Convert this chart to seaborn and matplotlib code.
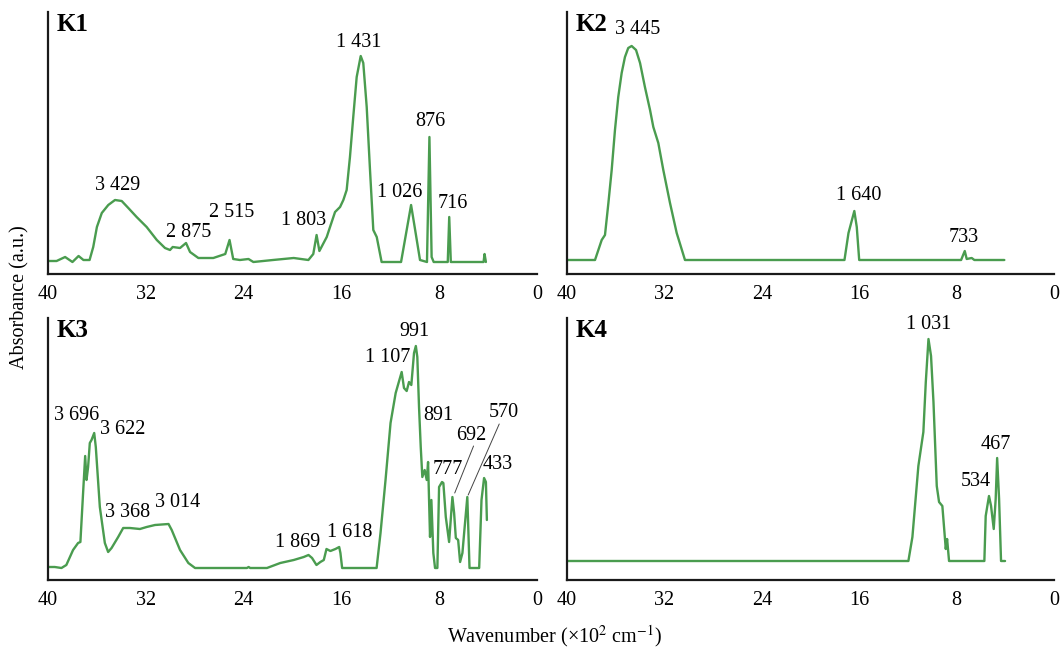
import matplotlib
matplotlib.use("Agg")
import matplotlib.pyplot as plt
import seaborn as sns
import pandas as pd

# ---------------- data (wavenumber x10^2 cm^-1, absorbance a.u.) ----------------
k1_w = [40.0, 39.3, 38.6, 38.0, 37.5, 37.1, 36.6, 36.3, 36.0, 35.6, 35.07, 34.52, 33.97, 33.43,
        32.75, 31.93, 31.1, 30.43, 30.02, 29.8, 29.2, 28.71, 28.38, 27.7, 26.48, 25.5, 25.15,
        24.85, 24.3, 23.6, 23.2, 21.6, 19.9, 18.7, 18.3, 18.03, 17.8, 17.2, 16.93, 16.52, 16.11,
        15.84, 15.57, 15.30, 15.03, 14.75, 14.42, 14.21, 13.93, 13.66, 13.39, 13.11, 12.71,
        11.12, 10.3, 9.98, 9.57, 9.0, 8.8, 8.62, 8.45, 7.3, 7.18, 7.05, 4.37, 4.29, 4.18]
k1_a = [13, 13, 17, 12, 18, 14, 14, 27, 47, 61, 69, 74, 73, 66,
        57, 47, 34, 26, 24, 27, 26, 31, 22, 16, 16, 20, 34,
        15, 14, 15, 12, 14, 16, 14, 20, 39, 23, 37, 47, 62, 67,
        74, 84, 117, 157, 197, 218, 211, 167, 104, 44, 37, 12,
        12, 69, 45, 14, 12, 137, 17, 12, 12, 57, 12, 12, 20, 12]

k2_w = [40.0, 37.7, 37.15, 36.88, 36.6, 36.33, 36.06, 35.79, 35.51, 35.24, 34.97, 34.69, 34.33,
        34.0, 33.6, 33.18, 32.91, 32.5, 32.09, 31.54, 30.99, 30.31, 17.21, 16.88, 16.40, 16.20,
        16.0, 7.63, 7.33, 7.17, 6.76, 6.54, 4.08]
k2_a = [14, 14, 34, 39, 71, 104, 144, 177, 201, 217, 226, 228, 224,
        211, 187, 164, 147, 131, 104, 71, 41, 14, 14, 41, 63, 47,
        14, 14, 23, 15, 16, 14, 14]

k3_w = [40.0, 39.45, 38.9, 38.5, 37.95, 37.54, 37.35, 37.13, 36.96, 36.85, 36.72, 36.58, 36.44,
        36.22, 36.09, 35.76, 35.35, 35.08, 34.80, 34.26, 33.85, 33.30, 32.48, 31.93, 31.25,
        30.14, 29.88, 29.20, 28.52, 27.97, 23.73, 23.59, 23.46, 22.09, 21.0, 19.90, 19.08,
        18.69, 18.40, 18.04, 17.72, 17.44, 17.22, 16.90, 16.49, 16.18, 16.08, 15.94, 13.12,
        12.80, 12.39, 11.98, 11.56, 11.07, 10.88, 10.66, 10.47, 10.28, 10.06, 9.91, 9.79,
        9.65, 9.51, 9.38, 9.19, 9.02, 8.91, 8.75, 8.64, 8.48, 8.34, 8.15, 8.01, 7.77, 7.66,
        7.46, 7.19, 6.92, 6.78, 6.64, 6.45, 6.29, 6.10, 5.96, 5.70, 5.52, 4.73, 4.54, 4.33,
        4.18, 4.10]
k3_a = [13, 13, 12, 15, 30, 37, 38, 87, 124, 100, 113, 137, 140,
        147, 133, 73, 37, 28, 32, 43, 52, 52, 51, 53, 55,
        56, 50, 30, 17, 12, 12, 13, 12, 12, 17, 20, 23,
        25, 22, 15, 18, 20, 31, 29, 31, 33, 27, 12, 12,
        47, 100, 157, 187, 208, 192, 189, 198, 195, 227, 234, 223,
        173, 133, 103, 110, 100, 118, 43, 80, 27, 12, 12, 93, 98, 97,
        63, 38, 83, 67, 42, 40, 18, 27, 47, 83, 12, 12, 80, 102,
        98, 60]

k4_w = [40.0, 11.96, 11.63, 11.14, 10.73, 10.53, 10.31, 10.10, 9.90, 9.63, 9.44, 9.17, 9.0,
        8.89, 8.78, 8.62, 5.72, 5.61, 5.34, 5.17, 4.95, 4.79, 4.67, 4.51, 4.35, 4.02]
k4_a = [19, 19, 43, 114, 148, 198, 241, 224, 178, 94, 78, 74, 48,
        31, 41, 19, 19, 64, 84, 74, 51, 81, 122, 81, 19, 19]

panels = ["K1", "K2", "K3", "K4"]
xticks = [40, 32, 24, 16, 8, 0]

# peak labels: (text, x, y)
k1_labels = [("3 429", 34.29, 79), ("2 875", 28.5, 32), ("2 515", 24.98, 52), ("1 803", 19.1, 44),
             ("1 431", 14.55, 222), ("1 026", 11.25, 72), ("876", 8.74, 143), ("716", 6.88, 61)]
k2_labels = [("3 445", 34.2, 235), ("1 640", 16.06, 69), ("733", 7.39, 27)]
k3_labels = [("3 696", 37.67, 155), ("3 622", 33.9, 141), ("3 368", 33.52, 58), ("3 014", 29.42, 68),
             ("1 869", 19.58, 28), ("1 618", 15.31, 38), ("1 107", 12.19, 213), ("991", 10.0, 239),
             ("891", 8.09, 155), ("777", 7.33, 101), ("692", 5.36, 135), ("570", 2.73, 158),
             ("433", 3.23, 106)]
k4_labels = [("1 031", 10.26, 246), ("534", 6.43, 89), ("467", 4.79, 126)]
# leader lines for K3: (x0, y0, x1, y1)
k3_leaders = [(5.19, 134, 6.73, 87), (3.09, 156, 5.63, 85)]

# ---------------- style ----------------
sns.set_theme(style="white")
plt.rcParams["font.family"] = ["Liberation Serif", "DejaVu Serif"]
plt.rcParams["mathtext.fontset"] = "stix"
plt.rcParams["text.color"] = "black"
plt.rcParams["xtick.color"] = "black"

green = "#4a9c4f"
fs = 14.5

fig = plt.figure(figsize=(10.63, 6.53), dpi=100)
W, H = 1063, 653
boxes = [(48, 537, 12, 274), (567, 1054, 12, 274), (48, 537, 318, 580), (567, 1054, 318, 580)]
series = [(k1_w, k1_a), (k2_w, k2_a), (k3_w, k3_a), (k4_w, k4_a)]
labels = [k1_labels, k2_labels, k3_labels, k4_labels]

for i, (box, (xw, ya), labs, name) in enumerate(zip(boxes, series, labels, panels)):
    l, r, t, b = box
    ax = fig.add_axes([l / W, 1 - b / H, (r - l) / W, (b - t) / H])
    df = pd.DataFrame({"w": xw, "a": ya})
    sns.lineplot(data=df, x="w", y="a", ax=ax, color=green, linewidth=1.7,
                 estimator=None, sort=False)
    ax.set_xlim(40, 0)
    ax.set_ylim(0, 262)
    ax.set_xticks(xticks)
    ax.set_xticklabels([str(v) for v in xticks], fontsize=fs)
    ax.set_yticks([])
    ax.set_xlabel("")
    ax.set_ylabel("")
    for s in ["top", "right"]:
        ax.spines[s].set_visible(False)
    for s in ["left", "bottom"]:
        ax.spines[s].set_color("#1a1a1a")
        ax.spines[s].set_linewidth(1.6)
    ax.tick_params(axis="x", direction="in", length=6, width=1.4, color="#1a1a1a",
                   pad=8, labelcolor="black")
    ax.text(39.3, 261, name, fontsize=18, fontweight="bold", ha="left", va="top", color="black")
    for txt, x, y in labs:
        ax.text(x, y, txt, fontsize=fs, ha="center", va="bottom", color="black")
    if name == "K3":
        for x0, y0, x1, y1 in k3_leaders:
            ax.plot([x0, x1], [y0, y1], color="#444444", linewidth=0.7)

fig.text(0.019, 0.545, "Absorbance (a.u.)", rotation=90, fontsize=fs, ha="center", va="center")
fig.text(0.522, 0.026, r"Wavenumber (×10$^{2}$ cm$^{-1}$)", fontsize=fs, ha="center", va="center")

fig.savefig("out.png", dpi=100)
